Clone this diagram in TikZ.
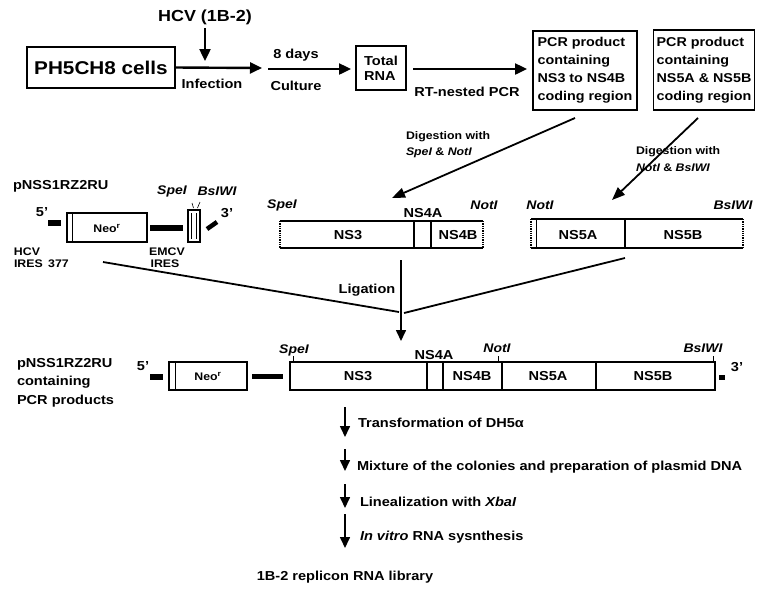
\documentclass[tikz,border=0pt]{standalone}
\usepackage{fontspec}
\setmainfont{Liberation Sans}[FakeStretch=1.12]
\usetikzlibrary{arrows.meta}
\begin{document}
\begin{tikzpicture}[x=1pt,y=-1pt,
  every node/.style={inner sep=0pt, outer sep=0pt},
  f/.style={font=\bfseries\fontsize{13}{15}\selectfont},
  fi/.style={font=\bfseries\itshape\fontsize{12.5}{15}\selectfont},
  fs/.style={font=\bfseries\fontsize{11}{13}\selectfont},
  fsi/.style={font=\bfseries\itshape\fontsize{11}{13}\selectfont},
  fbig/.style={font=\bfseries\fontsize{18.5}{22}\selectfont},
  fhcv/.style={font=\bfseries\fontsize{16}{19}\selectfont},
  box/.style={draw, line width=1.5pt},
  arr/.style={line width=2.4pt, -{Triangle[length=12pt,width=11pt]}},
  darr/.style={line width=1.8pt, -{Triangle[length=13pt,width=10pt]}},
  sarr/.style={line width=1.6pt, -{Triangle[length=11pt,width=10pt]}},
  seg/.style={line width=1.3pt},
  dotedge/.style={line width=1.3pt, densely dotted},
  thin/.style={line width=0.6pt}]
\useasboundingbox (0,0) rectangle (771,598);

% ---------- top row ----------
\node[fhcv] (hcv) at (205,17) {HCV (1B-2)};
\node[box, fbig, minimum width=148pt, minimum height=41pt] (cells) at (101,67.5) {PH5CH8 cells};
\coordinate (hcvtip) at (205,61);
\draw[arr] (hcv.south) ++(0,4) -- (hcvtip);
\coordinate (infend) at (262,68);
\draw[arr] (cells.east) -- (infend);
\node[f] (infection) at (212,84) {Infection};

\coordinate (cul0) at (268,69);
\coordinate (cul1) at (351,69);
\draw[arr] (cul0) -- (cul1);
\node[f] (days) at (296,55) {8 days};
\node[f] (culture) at (296,86) {Culture};

\node[box, f, minimum width=50pt, minimum height=44pt, align=left] (rna) at (381,68) {Total\\RNA};

\coordinate (rt0) at (413,69);
\coordinate (rt1) at (527,69);
\draw[arr] (rt0) -- (rt1);
\node[f] (rtpcr) at (467,92) {RT-nested PCR};

\node[box, minimum width=104pt, minimum height=79pt, align=left, font=\bfseries\fontsize{12.8}{18}\selectfont] (pcr1) at (585,70.5) {PCR product\\containing\\NS3 to NS4B\\coding region};
\node[box, minimum width=101pt, minimum height=80pt, align=left, font=\bfseries\fontsize{12.8}{18}\selectfont] (pcr2) at (704,70) {PCR product\\containing\\NS5A \& NS5B\\coding region};

% ---------- digestion arrows ----------
\coordinate (d1s) at (575,118);
\coordinate (d1e) at (392,198);
\draw[darr] (d1s) -- (d1e);
\node[fs, anchor=west] (dig1) at (406,137) {Digestion with};
\node[fsi, anchor=west] (dig1b) at (406,153) {SpeI {\upshape\&} NotI};
\coordinate (d2s) at (698,118);
\coordinate (d2e) at (612,200);
\draw[darr] (d2s) -- (d2e);
\node[fs, anchor=west] (dig2) at (636,152) {Digestion with};
\node[fsi, anchor=west] (dig2b) at (636,168) {NotI {\upshape\&} BsIWI};

% ---------- top vector ----------
\node[f, anchor=west] (vec1) at (13,186) {pNSS1RZ2RU};
\node[f] (v5) at (42,212) {5'};
\fill (48,220) rectangle (61,226);
\draw[seg] (67,213) rectangle (147,242);
\draw[thin] (72,213) -- (72,242);
\node[fs] (neo1) at (107,228) {Neo\textsuperscript{r}};
\fill (150,224.5) rectangle (183,231);
\draw[seg] (188,210) rectangle (200,242);
\draw[thin] (191.5,213) -- (191.5,239);
\draw[thin] (196.5,213) -- (196.5,239);
\draw[thin] (192,203) -- (193.5,208);
\draw[thin] (200,202) -- (197.5,208);
\node[fi] (vspe) at (172,191) {SpeI};
\node[fi] (vbsi) at (217,191) {BsIWI};
\draw[line width=4.5pt] (207,229) -- (217,222);
\node[f] (v3) at (227,213) {3'};
\node[fs] (hcvl) at (27,252) {HCV};
\node[fs, anchor=west] (iresl) at (14,264) {IRES\enspace 377};
\node[fs] (emcv) at (167,252) {EMCV};
\node[fs] (ires2) at (165,264) {IRES};

% ---------- fragment 1 ----------
\draw[seg] (280,221) -- (483,221);
\draw[seg] (280,248) -- (483,248);
\draw[dotedge] (280,221) -- (280,248);
\draw[dotedge] (483,221) -- (483,248);
\draw[seg] (414,221) -- (414,248);
\draw[seg] (431,221) -- (431,248);
\node[fi] (f1spe) at (282,205) {SpeI};
\node[fi] (f1not) at (484,205) {NotI};
\node[f] (f1ns4a) at (423,213) {NS4A};
\node[f] (f1ns3) at (348,235) {NS3};
\node[f] (f1ns4b) at (458,235) {NS4B};

% ---------- fragment 2 ----------
\draw[seg] (531,219) -- (743,219);
\draw[seg] (531,248) -- (743,248);
\draw[dotedge] (531,219) -- (531,248);
\draw[thin] (536,219) -- (536,248);
\draw[dotedge] (743,219) -- (743,248);
\draw[seg] (625,219) -- (625,248);
\node[fi] (f2not) at (540,205) {NotI};
\node[fi] (f2bsi) at (733,205) {BsIWI};
\node[f] (f2ns5a) at (578,235) {NS5A};
\node[f] (f2ns5b) at (683,235) {NS5B};

% ---------- ligation ----------
\coordinate (lg1) at (103,262);
\coordinate (lgm1) at (399,312);
\coordinate (lg2) at (625,258);
\coordinate (lgm2) at (404,313);
\draw[line width=1.8pt] (lg1) -- (lgm1);
\draw[line width=1.8pt] (lg2) -- (lgm2);
\coordinate (lv0) at (401,260);
\coordinate (lv1) at (401,341);
\draw[sarr] (lv0) -- (lv1);
\node[f] (lig) at (367,290) {Ligation};

% ---------- bottom construct ----------
\node[anchor=north west, align=left, font=\bfseries\fontsize{13}{18.5}\selectfont] (vec2) at (17,358) {pNSS1RZ2RU\\containing\\PCR products};
\node[f] (b5) at (143,366) {5'};
\fill (150,374) rectangle (163,380);
\draw[seg] (169,362) rectangle (247,390);
\draw[thin] (175,362) -- (175,390);
\node[fs] (neo2) at (208,376) {Neo\textsuperscript{r}};
\fill (252,374) rectangle (283,379);
\draw[seg] (290,362) rectangle (715,390);
\foreach \xx in {427,443,502,596} \draw[seg] (\xx,362) -- (\xx,390);
\node[f] (bns3) at (358,376) {NS3};
\node[f] (bns4b) at (472,376) {NS4B};
\node[f] (bns5a) at (548,376) {NS5A};
\node[f] (bns5b) at (653,376) {NS5B};
\node[f] (bns4a) at (434,355) {NS4A};
\node[fi] (bspe) at (294,350) {SpeI};
\draw[thin] (293,356) -- (293,362);
\node[fi] (bnot) at (497,348) {NotI};
\draw[thin] (498,356) -- (498,362);
\node[fi] (bbsi) at (703,348) {BsIWI};
\draw[thin] (713,356) -- (713,362);
\fill (719,375) rectangle (725,380);
\node[f] (b3) at (737,367) {3'};

% ---------- steps ----------
\coordinate (s1a) at (345,407);
\coordinate (s1b) at (345,437);
\draw[sarr] (s1a) -- (s1b);
\node[f, anchor=west] (st1) at (358,423) {Transformation of DH5α};
\coordinate (s2a) at (345,449);
\coordinate (s2b) at (345,471);
\draw[sarr] (s2a) -- (s2b);
\node[f, anchor=west] (st2) at (357,467) {Mixture of the colonies and preparation of plasmid DNA};
\coordinate (s3a) at (345,484);
\coordinate (s3b) at (345,508);
\draw[sarr] (s3a) -- (s3b);
\node[f, anchor=west] (st3) at (360,502) {Linealization with \textit{XbaI}};
\coordinate (s4a) at (345,514);
\coordinate (s4b) at (345,548);
\draw[sarr] (s4a) -- (s4b);
\node[f, anchor=west] (st4) at (360,537) {\textit{In vitro} RNA sysnthesis};
\node[f] (lib) at (345,577) {1B-2 replicon RNA library};
\end{tikzpicture}
\end{document}
